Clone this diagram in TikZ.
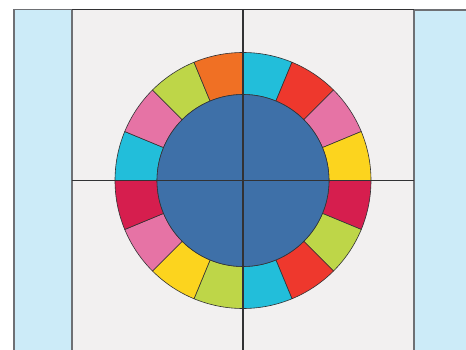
\documentclass[tikz,border=0pt]{standalone}
\definecolor{bandblue}{RGB}{204,235,248}
\definecolor{boardgray}{RGB}{242,240,240}
\definecolor{edgegray}{RGB}{110,112,116}
\definecolor{linedark}{RGB}{50,50,52}
\definecolor{segcyan}{RGB}{34,190,218}
\definecolor{segred}{RGB}{238,56,45}
\definecolor{segpink}{RGB}{230,115,165}
\definecolor{segyellow}{RGB}{252,212,30}
\definecolor{segcrimson}{RGB}{214,30,78}
\definecolor{seglime}{RGB}{190,214,72}
\definecolor{segorange}{RGB}{240,112,36}
\definecolor{hubblue}{RGB}{62,112,168}

\begin{document}
\begin{tikzpicture}[x=1pt, y=-1pt]
  \tikzset{
    band/.style={draw=edgegray, line width=1.4pt},
    segment/.style={draw=linedark, line width=0.6pt},
    axis/.style={draw=linedark, line width=1.1pt}
  }
  \useasboundingbox (0,0) rectangle (466,350);

  % Side bands and board
  \fill[boardgray] (72,9.5) rectangle (414,350);
  \fill[bandblue] (14,9.5) rectangle (72,350);
  \fill[bandblue] (414,10) rectangle (466,350);
  \draw[band] (14,352) -- (14,9.5) -- (72,9.5) -- (72,352);
  \draw[band] (414,352) -- (414,10) -- (468,10);
  \draw[draw=linedark, line width=0.8pt] (72,9.5) -- (414,9.5);

  % Colour ring and hub
  \begin{scope}[shift={(243,180.5)}, yscale=-1]
    \foreach \col [count=\i from 0] in {segcyan,segred,segpink,segyellow,segcrimson,seglime,segred,segcyan,seglime,segyellow,segpink,segcrimson,segcyan,segpink,seglime,segorange}{
      \pgfmathsetmacro{\a}{90-22.5*\i}
      \pgfmathsetmacro{\b}{90-22.5*(\i+1)}
      \filldraw[segment, fill=\col] (\a:86) arc[start angle=\a, end angle=\b, radius=86]
        -- (\b:128) arc[start angle=\b, end angle=\a, radius=128] -- cycle;
    }
    \filldraw[segment, fill=hubblue] (0,0) circle[radius=86];
  \end{scope}

  % Cross lines
  \draw[axis] (243,9.5) -- (243,350);
  \draw[axis] (72,180.5) -- (414,180.5);
\end{tikzpicture}
\end{document}
